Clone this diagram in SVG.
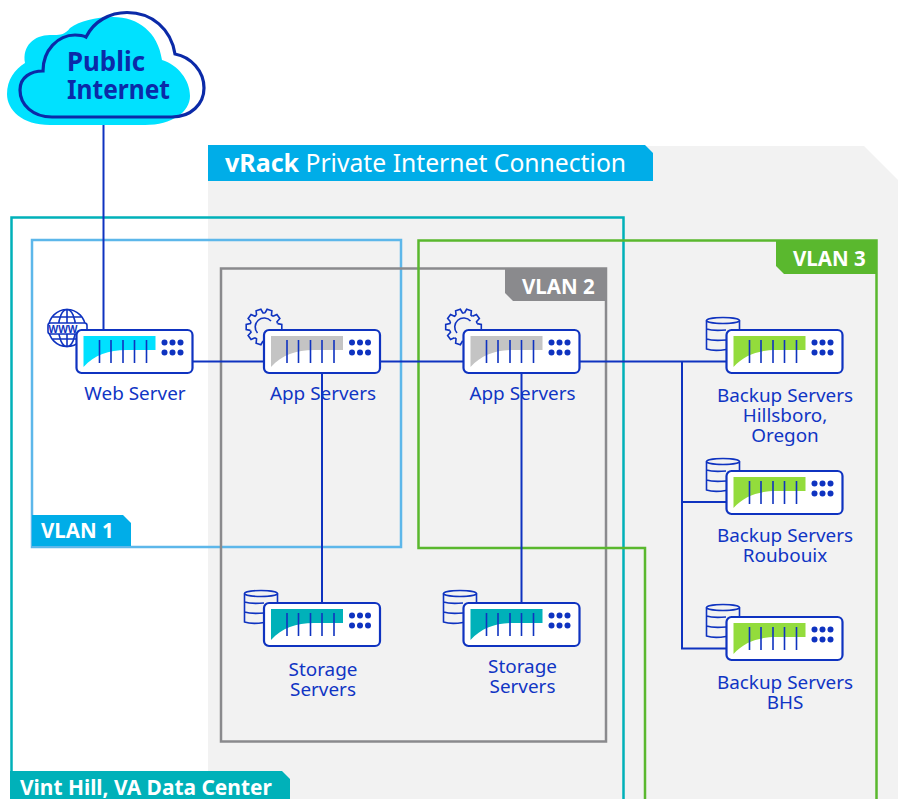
<svg xmlns="http://www.w3.org/2000/svg" width="898" height="799" viewBox="0 0 898 799">
<style>
text{font-family:"Noto Sans","Open Sans","Liberation Sans",sans-serif}
.lbl{font-size:18.9px;fill:#1035c4;text-anchor:middle}
.tag{font-size:20.5px;font-weight:700;fill:#fff}
.box{fill:#fff;stroke:#0f33c0;stroke-width:2.2}
.bar{stroke:#0f33c0;stroke-width:1.6;fill:none}
.ln{stroke:#0f33c0;stroke-width:2;fill:none}
.ic{stroke:#0f33c0;stroke-width:1.6;fill:none}
.dot{fill:#0f33c0}
.pub{font-size:26px;font-weight:700;fill:#0b2aa8}
</style>
<defs>
<g id="hw">
<rect class="box" x="0" y="0" width="116" height="43" rx="5"/>
<g class="dot"><circle cx="88" cy="12.500" r="3"/><circle cx="96" cy="12.500" r="3"/><circle cx="104" cy="12.500" r="3"/><circle cx="88" cy="22.500" r="3"/><circle cx="96" cy="22.500" r="3"/><circle cx="104" cy="22.500" r="3"/></g>
</g>
<path id="bars" class="bar" d="M23 10V33M34.500 10V33M46.500 10V33M58 10V33M70 10V33"/>
<path id="fillshape" d="M7 6H79V20H50C32 20 18 25 7 37Z"/>
<g id="db" class="ic">
<ellipse cx="17" cy="3.500" rx="16.500" ry="3"/>
<path d="M0.500 3.500V32C5 33.500 14 33.500 20 32.500M0.500 12C5 13.500 14 13.500 20 13M0.500 22C5 23.500 14 23.500 20 23M33.500 3.500V13"/>
</g>
<path id="tooth" d="M13.600 -3.400L17.800 -2.500L17.800 2.500L13.600 3.400L13 5.200"/>
<g id="gear" class="ic">
<path d="M-6.500 6A9 9 0 0 1 7 -6"/>
<use href="#tooth"/>
<use href="#tooth" transform="rotate(36)"/>
<use href="#tooth" transform="rotate(72)"/>
<use href="#tooth" transform="rotate(108)"/>
<use href="#tooth" transform="rotate(144)"/>
<use href="#tooth" transform="rotate(180)"/>
<use href="#tooth" transform="rotate(216)"/>
<use href="#tooth" transform="rotate(252)"/>
<use href="#tooth" transform="rotate(288)"/>
<use href="#tooth" transform="rotate(324)"/>
</g>
</defs>
<rect x="0" y="0" width="898" height="799" fill="#fff"/>
<path id="vrack-bg" d="M208 146H864L898 180V799H208Z" fill="#f2f2f2"/>

<g id="vlan-hill">
<path d="M11.500 799V217.500H623.500V799" fill="none" stroke="#00b1b9" stroke-width="2.500"/>
<path d="M10 799V771H282L290 779V799Z" fill="#00b1b9"/>
<text class="tag" x="20" y="794.500" style="font-size:20.900px">Vint Hill, VA Data Center</text>
</g>
<g id="vlan1">
<rect x="32" y="240" width="369" height="307" fill="none" stroke="#5db7ea" stroke-width="2.500"/>
<path d="M32 515H123L131 523V546H32Z" fill="#00ade8"/>
<text class="tag" x="41" y="538">VLAN 1</text>
</g>
<g id="vlan2">
<rect x="221" y="268.500" width="385" height="473" fill="none" stroke="#8a8a8d" stroke-width="2.500"/>
<path d="M505 268H607V301H513L505 293Z" fill="#8a8a8d"/>
<text class="tag" x="522" y="294">VLAN 2</text>
</g>
<g id="vlan3">
<path d="M645 799V548H418.500V240.500H876.500V799" fill="none" stroke="#5ab82e" stroke-width="2.500"/>
<path d="M776 241H876V274H784L776 266Z" fill="#5ab82e"/>
<text class="tag" x="793" y="266">VLAN 3</text>
</g>
<g id="vrack-tag">
<path d="M208 145H645L653 153V181H208Z" fill="#00ade8"/>
<text x="225" y="172" style="font-size:25px;fill:#fff;font-weight:700">vRack<tspan style="font-size:24.700px;font-weight:400"> Private Internet Connection</tspan></text>
</g>

<g id="connectors" class="ln">
<path d="M103.500 121V330"/>
<path d="M192 361.500H264M380 361.500H464M580 361.500H726"/>
<path d="M322 373V603M521.500 373V603"/>
<path d="M682 361.500V648.500H726M682 502H726"/>
</g>

<g id="cloud">
<path d="M25 63C22 46 34 35 50 35C58 35 64 36 70 28C80 21 95 17 113 17C138 17 158 32 162 60C178 65 190 80 190 96C190 112 172 125 145 125H50C22 125 7 110 7 94C7 80 15 69 25 63Z" fill="#00e1ff"/>
<path d="M43 71C43 50 58 35 75 35C80 35 84 36 86 37C94 21 110 12.500 127 12.500C152 12.500 171 29 175 54C191 57 204 71 204 88C204 104 191 117 172 117H52C33 117 20 105 20 90C20 77 31 71 43 71Z" fill="none" stroke="#0b2aa8" stroke-width="3.200"/>
<text class="pub" x="67" y="71" textLength="78" lengthAdjust="spacingAndGlyphs">Public</text>
<text class="pub" x="67" y="99" textLength="103" lengthAdjust="spacingAndGlyphs">Internet</text>
</g>

<g id="web-server">
<g class="ic" transform="translate(49 309)">
<circle cx="18" cy="19" r="18.500"/>
<ellipse cx="18" cy="19" rx="8.500" ry="18.500"/>
<path d="M18 0.500V37.500M3.500 8H32.500M3.500 30H32.500"/>
<rect x="-1" y="14" width="39" height="11" rx="2.500" fill="#fff"/>
<text x="14" y="23.500" text-anchor="middle" style="font-size:10px;font-weight:700;fill:#0f33c0;stroke:none">WWW</text>
</g>
<use href="#hw" x="76.500" y="330"/>
<use href="#fillshape" x="76.500" y="330" fill="#00e1ff"/>
<use href="#bars" x="76.500" y="330"/>
<text class="lbl" x="135" y="399.500">Web Server</text>
</g>

<g id="app-servers-1">
<use href="#gear" x="264" y="327"/>
<use href="#hw" x="264" y="330"/>
<use href="#fillshape" x="264" y="330" fill="#c4c4c4"/>
<use href="#bars" x="264" y="330"/>
<text class="lbl" x="323" y="399.500">App Servers</text>
</g>

<g id="app-servers-2">
<use href="#gear" x="463.500" y="327"/>
<use href="#hw" x="463.500" y="330"/>
<use href="#fillshape" x="463.500" y="330" fill="#c4c4c4"/>
<use href="#bars" x="463.500" y="330"/>
<text class="lbl" x="522.500" y="399.500">App Servers</text>
</g>

<g id="storage-1">
<use href="#db" x="244" y="590"/>
<use href="#hw" x="264" y="603"/>
<use href="#fillshape" x="264" y="603" fill="#00b1b9"/>
<use href="#bars" x="264" y="603"/>
<text class="lbl" x="323" y="676">Storage</text>
<text class="lbl" x="323" y="696">Servers</text>
</g>

<g id="storage-2">
<use href="#db" x="443" y="590"/>
<use href="#hw" x="463.500" y="603"/>
<use href="#fillshape" x="463.500" y="603" fill="#00b1b9"/>
<use href="#bars" x="463.500" y="603"/>
<text class="lbl" x="522.500" y="673">Storage</text>
<text class="lbl" x="522.500" y="693">Servers</text>
</g>

<g id="backup-1">
<use href="#db" x="706" y="317"/>
<use href="#hw" x="726.500" y="330"/>
<use href="#fillshape" x="726.500" y="330" fill="#93dc3c"/>
<use href="#bars" x="726.500" y="330"/>
<text class="lbl" x="785" y="402">Backup Servers</text>
<text class="lbl" x="785" y="422">Hillsboro,</text>
<text class="lbl" x="785" y="442">Oregon</text>
</g>

<g id="backup-2">
<use href="#db" x="706" y="458"/>
<use href="#hw" x="726.500" y="471"/>
<use href="#fillshape" x="726.500" y="471" fill="#93dc3c"/>
<use href="#bars" x="726.500" y="471"/>
<text class="lbl" x="785" y="542">Backup Servers</text>
<text class="lbl" x="785" y="562">Roubouix</text>
</g>

<g id="backup-3">
<use href="#db" x="706" y="604"/>
<use href="#hw" x="726.500" y="617"/>
<use href="#fillshape" x="726.500" y="617" fill="#93dc3c"/>
<use href="#bars" x="726.500" y="617"/>
<text class="lbl" x="785" y="689">Backup Servers</text>
<text class="lbl" x="785" y="709">BHS</text>
</g>
</svg>
